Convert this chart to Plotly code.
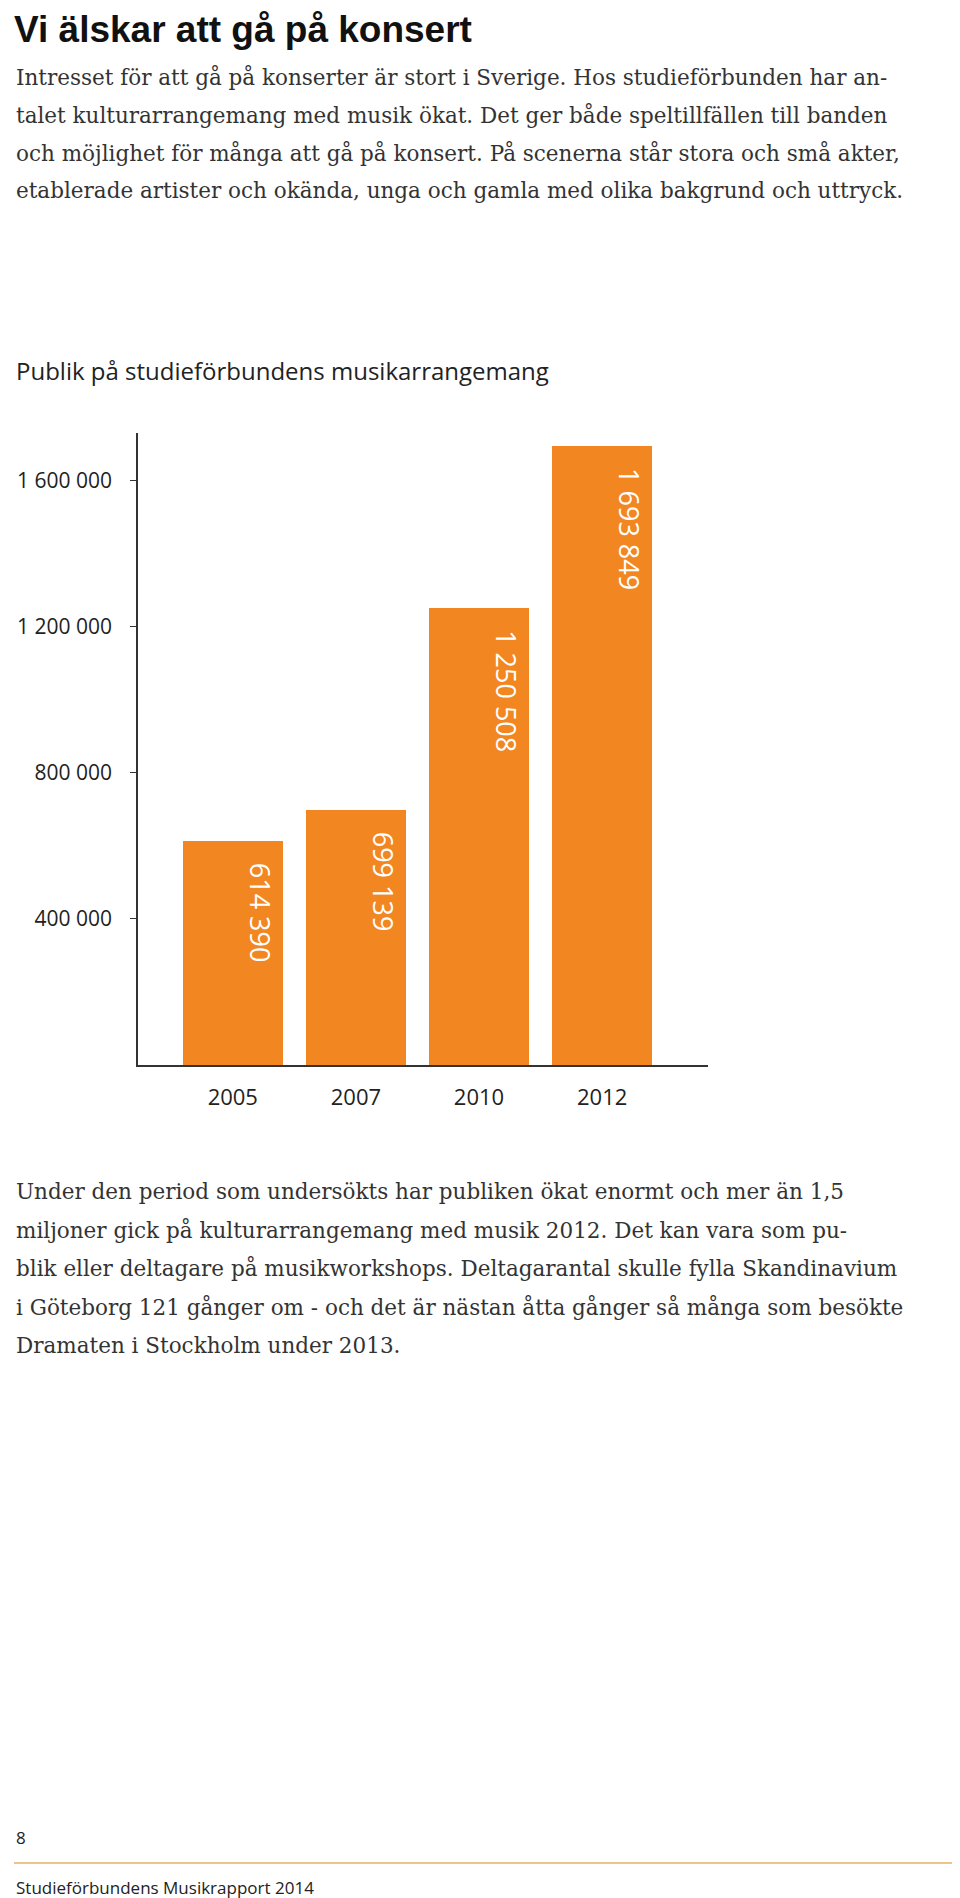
import plotly.graph_objects as go

years = ["2005", "2007", "2010", "2012"]
visitors = [614390, 699139, 1250508, 1693849]
value_labels = ["614 390", "699 139", "1 250 508", "1 693 849"]
ytick_vals = [400000, 800000, 1200000, 1600000]
ytick_text = ["400 000", "800 000", "1 200 000", "1 600 000"]

title = "Vi älskar att gå på konsert"
intro_lines = [
    "Intresset för att gå på konserter är stort i Sverige. Hos studieförbunden har an-",
    "talet kulturarrangemang med musik ökat. Det ger både speltillfällen till banden",
    "och möjlighet för många att gå på konsert. På scenerna står stora och små akter,",
    "etablerade artister och okända, unga och gamla med olika bakgrund och uttryck.",
]
chart_title = "Publik på studieförbundens musikarrangemang"
outro_lines = [
    "Under den period som undersökts har publiken ökat enormt och mer än 1,5",
    "miljoner gick på kulturarrangemang med musik 2012. Det kan vara som pu-",
    "blik eller deltagare på musikworkshops. Deltagarantal skulle fylla Skandinavium",
    "i Göteborg 121 gånger om - och det är nästan åtta gånger så många som besökte",
    "Dramaten i Stockholm under 2013.",
]
page_no = "8"
footer = "Studieförbundens Musikrapport 2014"

ORANGE = "#F28621"
W, H = 960, 1898
xs = list(range(len(years)))

fig = go.Figure(go.Bar(x=xs, y=visitors, width=0.81, marker_color=ORANGE,
                       marker_line_width=0, hoverinfo="skip"))

for i, (v, lab) in enumerate(zip(visitors, value_labels)):
    fig.add_annotation(x=i, y=v, text=lab, textangle=90, showarrow=False,
                       xanchor="center", yanchor="top", xshift=28, yshift=-20,
                       font=dict(family="Open Sans", size=27, color="white"))

L, R, T, B = 130, 260, 425, 841
pw, ph = W - L - R, H - T - B

def page(txt, x, y, size, family, color="#222", bold=False):
    fig.add_annotation(xref="paper", yref="paper", x=(x - L) / pw, y=(H - B - y) / ph,
                       xanchor="left", yanchor="middle", showarrow=False,
                       text=f"<b>{txt}</b>" if bold else txt,
                       font=dict(family=family, size=size, color=color))

page(title, 4, 22, 37, "Liberation Sans", "#111", bold=True)
for k, line in enumerate(intro_lines):
    page(line, 6, 69 + k * 38, 21.5, "DejaVu Serif", "#333")
page(chart_title, 6, 363, 24, "Open Sans", "#222")
for k, line in enumerate(outro_lines):
    page(line, 6, 1183 + k * 38.5, 21.5, "DejaVu Serif", "#333")
page(page_no, 6, 1829, 17, "Open Sans", "#222")
page(footer, 6, 1879, 17, "Open Sans", "#222")
fig.add_shape(type="line", xref="paper", yref="paper",
              x0=(6 - L) / pw, x1=(952 - L) / pw,
              y0=(H - B - 1855) / ph, y1=(H - B - 1855) / ph,
              line=dict(color="#E8B060", width=1.5))

fig.update_layout(
    width=W, height=H, margin=dict(l=L, r=R, t=T, b=B, autoexpand=False),
    plot_bgcolor="white", paper_bgcolor="white", showlegend=False, bargap=0,
    xaxis=dict(range=[-0.77, 3.86], tickvals=xs, ticktext=years, showline=True,
               linecolor="#333", linewidth=1.5, showgrid=False, zeroline=False,
               ticks="", ticklabelstandoff=12,
               tickfont=dict(family="Open Sans", size=22, color="#222")),
    yaxis=dict(range=[0, 1730000], tickvals=ytick_vals, ticktext=ytick_text,
               showline=True, linecolor="#333", linewidth=1.5, showgrid=False,
               zeroline=False, ticks="outside", ticklen=6, tickcolor="#333",
               ticklabelstandoff=14,
               tickfont=dict(family="Open Sans", size=21, color="#222")),
)
fig.write_html("out.html")
